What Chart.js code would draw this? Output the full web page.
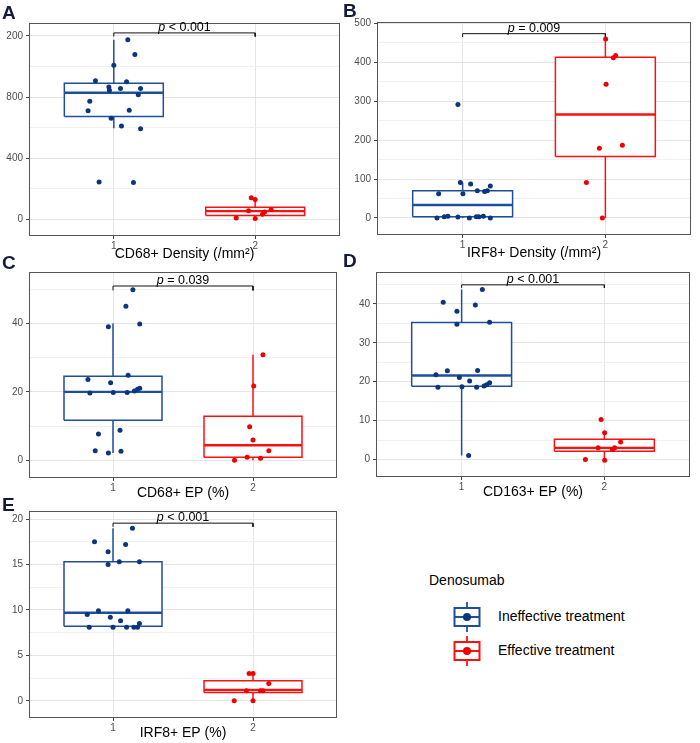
<!DOCTYPE html>
<html><head><meta charset="utf-8">
<script src="https://cdn.jsdelivr.net/npm/chart.js@4.4.1/dist/chart.umd.min.js"></script>
<style>
html,body{margin:0;padding:0;background:#fff;}
body{width:700px;height:743px;position:relative;overflow:hidden;font-family:"Liberation Sans",Arial,sans-serif;}
.panel{position:absolute;}
.panel canvas{display:block;}
.letter{position:absolute;font-weight:bold;font-size:19px;line-height:19px;color:#141a3c;}
.leg{position:absolute;font-size:14px;line-height:14px;color:#000;white-space:nowrap;}
</style></head><body>
<script>
// ---------------- DATA ----------------
const categories = [1, 2];
const groupNames = ['Ineffective treatment', 'Effective treatment'];
const legendTitle = 'Denosumab';
const panelLetters = ['A', 'B', 'C', 'D', 'E'];
const panelTitles = ['CD68+ Density (/mm\u00B2)', 'IRF8+ Density (/mm\u00B2)', 'CD68+ EP (%)', 'CD163+ EP (%)', 'IRF8+ EP (%)'];
const pLabels = ['< 0.001', '= 0.009', '= 0.039', '< 0.001', '< 0.001'];
const bracketY = [1220, 474, 51.0, 44.9, 19.56];
const bracketTip = [1196, 465, 49.7, 44.1, 19.16];

const yMajorA = [0, 400, 800, 1200];
const yMinorA = [200, 600, 1000];
const yRangeA = [-111, 1285];
const yMajorB = [0, 100, 200, 300, 400, 500];
const yMinorB = [50, 150, 250, 350, 450];
const yRangeB = [-44, 504];
const yMajorC = [0, 20, 40];
const yMinorC = [10, 30, 50];
const yRangeC = [-5.2, 55.1];
const yMajorD = [0, 10, 20, 30, 40];
const yMinorD = [5, 15, 25, 35, 45];
const yRangeD = [-4.5, 48.2];
const yMajorE = [0, 5, 10, 15, 20];
const yMinorE = [2.5, 7.5, 12.5, 17.5];
const yRangeE = [-1.9, 20.9];

// box stats: [lower whisker, Q1, median, Q3, upper whisker]
const statsA1 = [595, 673, 828, 890, 1176];
const statsA2 = [4, 24, 52, 77, 138];
const statsB1 = [0, 3, 33, 70, 91];
const statsB2 = [0, 158, 266, 413, 460];
const statsC1 = [2.1, 11.7, 20.0, 24.6, 40.0];
const statsC2 = [0, 0.9, 4.4, 12.9, 30.9];
const statsD1 = [1.0, 18.8, 21.6, 35.2, 43.7];
const statsD2 = [0, 2.1, 3.0, 5.2, 6.9];
const statsE1 = [8.1, 8.2, 9.7, 15.3, 19.0];
const statsE2 = [0, 0.9, 1.2, 2.2, 3.0];

// individual values
const valuesA1 = [1176, 1078, 1008, 907, 900, 866, 844, 855, 855, 815, 772, 710, 713, 660, 610, 592, 243, 240];
const valuesA2 = [140, 129, 55, 63, 46, 31, 7, 4];
const valuesB1 = [292, 91, 87, 82, 62, 62, 70, 68, 70, 0, 3, 4, 2, 0, 3, 3, 4, 0];
const valuesB2 = [460, 418, 412, 344, 179, 187, 91, 0];
const valuesC1 = [49.9, 45.1, 39.1, 39.9, 24.9, 23.6, 22.7, 19.7, 19.8, 19.8, 20.3, 20.8, 21.1, 8.8, 7.7, 2.8, 2.1, 2.6];
const valuesC2 = [30.9, 21.7, 9.8, 5.9, 2.8, 0.9, 0.6, 0];
const valuesD1 = [43.7, 40.4, 39.7, 38.1, 34.8, 35.3, 22.8, 22.9, 21.8, 21.1, 20.2, 19.7, 19.2, 18.9, 18.6, 18.7, 18.6, 1.0];
const valuesD2 = [10.3, 6.9, 4.5, 3.0, 3.0, 2.6, 0, -0.2];
const valuesE1 = [19.0, 17.5, 17.2, 16.4, 15.0, 15.3, 15.3, 9.9, 9.9, 9.5, 9.2, 8.8, 8.5, 8.1, 8.1, 8.1, 8.1, 8.1];
const valuesE2 = [3.0, 3.0, 1.9, 1.1, 1.1, 1.1, 0, 0];

// horizontal jitter of each point (category units)
const jitterA1 = [0.099, 0.149, 0, -0.130, 0.090, -0.035, -0.031, 0.047, 0.189, 0.173, -0.170, -0.182, 0.109, -0.019, 0.054, 0.189, -0.104, 0.139];
const jitterA2 = [-0.028, 0, -0.047, 0.113, 0.066, 0.052, -0.134, 0];
const jitterB1 = [-0.033, -0.016, 0.056, 0.194, -0.168, 0.002, 0.103, 0.154, 0.173, -0.180, -0.129, -0.103, -0.033, 0.047, 0.096, 0.114, 0.145, 0.194];
const jitterB2 = [0.002, 0.072, 0.056, 0.005, -0.042, 0.119, -0.133, -0.021];
const jitterC1 = [0.142, 0.092, -0.033, 0.191, 0.108, -0.179, -0.017, -0.165, 0.002, 0.101, 0.153, 0.175, 0.191, 0.050, -0.104, -0.127, -0.033, 0.057];
const jitterC2 = [0.071, 0.005, -0.024, 0, 0.113, -0.042, 0.054, -0.132];
const jitterD1 = [0.145, -0.129, 0.096, -0.033, -0.033, 0.196, -0.100, 0.112, -0.180, -0.016, 0.056, 0.196, 0.175, 0.157, -0.166, 0.002, 0.105, 0.049];
const jitterD2 = [-0.023, 0.002, 0.114, -0.044, 0.072, 0.056, -0.133, 0.002];
const jitterE1 = [0.139, -0.132, 0.090, -0.035, -0.035, 0.045, 0.189, -0.104, 0.106, -0.184, -0.019, 0.054, 0.189, -0.170, 0, 0.097, 0.149, 0.175];
const jitterE2 = [-0.028, 0, 0.113, -0.047, 0.054, 0.071, -0.134, 0];

// ---------------- STYLE / LAYOUT ----------------
const FONT = '"Liberation Sans", Arial, sans-serif';
const colors = [
  {box: '#1f4e9b', pt: '#0b367f'},
  {box: '#ff1010', pt: '#f00000'}
];
const BOX_HALF = 0.35;
const layout = [
  {left: 6,   top: 0,   w: 339, h: 263, frame: {l: 29, r: 340, t: 23,  b: 236}, axisH: 27},
  {left: 350, top: 0,   w: 346, h: 262, frame: {l: 377, r: 691, t: 22, b: 235}, axisH: 27},
  {left: 0,   top: 263, w: 342, h: 239, frame: {l: 29, r: 337, t: 269, b: 478}, axisH: 24},
  {left: 350, top: 263, w: 346, h: 238, frame: {l: 376, r: 690, t: 269, b: 477}, axisH: 24},
  {left: 0,   top: 502, w: 342, h: 240, frame: {l: 29, r: 337, t: 511, b: 718}, axisH: 24}
];
const letterPos = [[2, 2.5], [343, 0.5], [2, 252.5], [343, 250.5], [2, 494.5]];

const panelData = [
  {major: yMajorA, minor: yMinorA, range: yRangeA, stats: [statsA1, statsA2], values: [valuesA1, valuesA2], jitter: [jitterA1, jitterA2]},
  {major: yMajorB, minor: yMinorB, range: yRangeB, stats: [statsB1, statsB2], values: [valuesB1, valuesB2], jitter: [jitterB1, jitterB2]},
  {major: yMajorC, minor: yMinorC, range: yRangeC, stats: [statsC1, statsC2], values: [valuesC1, valuesC2], jitter: [jitterC1, jitterC2]},
  {major: yMajorD, minor: yMinorD, range: yRangeD, stats: [statsD1, statsD2], values: [valuesD1, valuesD2], jitter: [jitterD1, jitterD2]},
  {major: yMajorE, minor: yMinorE, range: yRangeE, stats: [statsE1, statsE2], values: [valuesE1, valuesE2], jitter: [jitterE1, jitterE2]}
];

const framePlugin = {
  id: 'frame',
  afterDatasetsDraw(chart) {
    const a = chart.chartArea, ctx = chart.ctx;
    ctx.save();
    ctx.strokeStyle = '#555555';
    ctx.lineWidth = 1;
    ctx.strokeRect(a.left + 0.5, a.top + 0.5, a.right - a.left - 1, a.bottom - a.top - 1);
    ctx.restore();
  }
};
const pTextPlugin = {
  id: 'pText',
  afterDatasetsDraw(chart, args, opts) {
    if (!opts || opts.text == null) return;
    const ctx = chart.ctx, xs = chart.scales.x, ys = chart.scales.y;
    const px = xs.getPixelForValue((categories[0] + categories[1]) / 2);
    const py = ys.getPixelForValue(opts.y) - 2;
    ctx.save();
    ctx.fillStyle = '#000';
    ctx.textBaseline = 'alphabetic';
    ctx.textAlign = 'left';
    const fi = 'italic 12.5px ' + FONT, fn = '12.5px ' + FONT;
    ctx.font = fi; const w1 = ctx.measureText('p').width;
    const rest = ' ' + opts.text;
    ctx.font = fn; const w2 = ctx.measureText(rest).width;
    const sx = px - (w1 + w2) / 2;
    ctx.font = fi; ctx.fillText('p', sx, py);
    ctx.font = fn; ctx.fillText(rest, sx + w1, py);
    ctx.restore();
  }
};

function seg(points, color, width, order) {
  return {type: 'line', data: points, borderColor: color, borderWidth: width, pointRadius: 0,
          fill: false, tension: 0, order: order, clip: false};
}

function buildDatasets(pd, i) {
  const ds = [];
  categories.forEach((c, g) => {
    const [lo, q1, med, q3, hi] = pd.stats[g];
    const col = colors[g];
    ds.push({type: 'line', data: [{x: c - BOX_HALF, y: q1}, {x: c + BOX_HALF, y: q1}, {x: c + BOX_HALF, y: q3}, {x: c - BOX_HALF, y: q3}, {x: c - BOX_HALF, y: q1}],
      borderColor: col.box, borderWidth: 1.5, backgroundColor: '#ffffff', fill: 'shape', pointRadius: 0, tension: 0, order: 6});
    ds.push(seg([{x: c, y: q3}, {x: c, y: hi}], col.box, 1.5, 5));
    ds.push(seg([{x: c, y: q1}, {x: c, y: lo}], col.box, 1.5, 5));
    ds.push(seg([{x: c - BOX_HALF, y: med}, {x: c + BOX_HALF, y: med}], col.box, 2.4, 4));
    ds.push({type: 'scatter', data: pd.values[g].map((v, k) => ({x: c + pd.jitter[g][k], y: v})),
      backgroundColor: col.pt, borderWidth: 0, pointRadius: 2.5, order: 1});
  });
  ds.push(seg([{x: categories[0], y: bracketTip[i]}, {x: categories[0], y: bracketY[i]}, {x: categories[1], y: bracketY[i]}, {x: categories[1], y: bracketTip[i]}], '#111', 1, 2));
  return ds;
}

panelData.forEach((pd, i) => {
  const L = layout[i];
  const div = document.createElement('div');
  div.className = 'panel';
  div.style.left = L.left + 'px'; div.style.top = L.top + 'px';
  div.style.width = L.w + 'px'; div.style.height = L.h + 'px';
  const cv = document.createElement('canvas');
  cv.width = L.w; cv.height = L.h;
  div.appendChild(cv);
  document.body.appendChild(div);

  const allTicks = pd.major.concat(pd.minor).sort((a, b) => a - b);
  const isMajor = v => pd.major.some(m => Math.abs(m - v) < 1e-9);
  const yW = L.frame.l - L.left;

  new Chart(cv, {
    type: 'line',
    data: {datasets: buildDatasets(pd, i)},
    options: {
      responsive: false, animation: false, events: [], devicePixelRatio: 1,
      layout: {padding: {left: 0, top: L.frame.t - L.top, right: (L.left + L.w) - L.frame.r, bottom: 0}},
      plugins: {legend: {display: false}, tooltip: {enabled: false}, pText: {text: pLabels[i], y: bracketY[i]}},
      scales: {
        x: {
          type: 'linear', min: 0.4, max: 2.6, offset: false,
          afterBuildTicks: s => { s.ticks = categories.map(v => ({value: v})); },
          afterFit: s => { s.height = L.axisH; },
          grid: {color: '#e6e6e6', lineWidth: 1, drawTicks: true, tickLength: 3, tickColor: '#444', tickWidth: 1},
          border: {display: false},
          ticks: {padding: 1, color: '#4d4d4d', font: {family: FONT, size: 10}, maxRotation: 0, autoSkip: false,
                  callback: v => String(v)},
          title: {display: true, text: panelTitles[i], color: '#000', font: {family: FONT, size: 14}, padding: {top: 0, bottom: 0}}
        },
        y: {
          type: 'linear', min: pd.range[0], max: pd.range[1],
          afterBuildTicks: s => { s.ticks = allTicks.map(v => ({value: v})); },
          afterFit: s => { s.width = yW; },
          grid: {
            color: c => isMajor(c.tick.value) ? '#e4e4e4' : '#f1f1f1',
            lineWidth: 1, drawTicks: true, tickLength: 3,
            tickColor: c => isMajor(c.tick.value) ? '#444' : 'rgba(0,0,0,0)', tickWidth: 1
          },
          border: {display: false},
          ticks: {padding: 3, color: '#4d4d4d', font: {family: FONT, size: 10}, autoSkip: false,
                  callback: v => isMajor(v) ? String(v) : ''}
        }
      }
    },
    plugins: [framePlugin, pTextPlugin]
  });
});

// panel letters
panelLetters.forEach((t, i) => {
  const d = document.createElement('div');
  d.className = 'letter';
  d.textContent = t;
  d.style.left = letterPos[i][0] + 'px';
  d.style.top = letterPos[i][1] + 'px';
  document.body.appendChild(d);
});

// legend
function legendGlyph(col, x, y) {
  const ns = 'http://www.w3.org/2000/svg';
  const svg = document.createElementNS(ns, 'svg');
  svg.setAttribute('width', 30); svg.setAttribute('height', 32);
  svg.style.position = 'absolute'; svg.style.left = x + 'px'; svg.style.top = y + 'px';
  svg.innerHTML =
    '<line x1="14" y1="1" x2="14" y2="7" stroke="' + col.box + '" stroke-width="1.8"/>' +
    '<line x1="14" y1="25" x2="14" y2="31" stroke="' + col.box + '" stroke-width="1.8"/>' +
    '<rect x="1.5" y="7" width="25" height="18" fill="#fff" stroke="' + col.box + '" stroke-width="2"/>' +
    '<line x1="1.5" y1="16" x2="26.5" y2="16" stroke="' + col.box + '" stroke-width="2"/>' +
    '<circle cx="14" cy="16" r="4" fill="' + col.pt + '"/>';
  document.body.appendChild(svg);
}
const lt = document.createElement('div');
lt.className = 'leg'; lt.textContent = legendTitle;
lt.style.left = '429px'; lt.style.top = '573px';
document.body.appendChild(lt);
groupNames.forEach((n, g) => {
  const cy = g === 0 ? 617 : 651;
  legendGlyph(colors[g], 453, cy - 16);
  const d = document.createElement('div');
  d.className = 'leg'; d.textContent = n;
  d.style.left = '498px'; d.style.top = (cy - 8) + 'px';
  document.body.appendChild(d);
});
</script>
</body></html>
